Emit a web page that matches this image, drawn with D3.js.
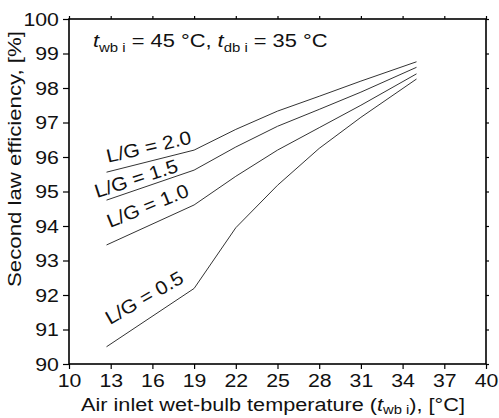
<!DOCTYPE html>
<html><head><meta charset="utf-8">
<script src="https://cdn.jsdelivr.net/npm/d3@7"></script>
<style>
html,body{margin:0;padding:0;background:#fff;}
text{font-family:"Liberation Sans",Arial,sans-serif;fill:#111;}
</style></head>
<body><svg id="c" width="499" height="418"></svg>
<script>
const xTicks = [10,13,16,19,22,25,28,31,34,37,40];
const yTicks = [90,91,92,93,94,95,96,97,98,99,100];
const temps = [12.7,19,22,25,28,31,35];
const lg20 = [95.56,96.20,96.80,97.33,97.76,98.20,98.76];
const lg15 = [94.75,95.62,96.29,96.89,97.38,97.88,98.60];
const lg10 = [93.45,94.61,95.44,96.20,96.85,97.50,98.41];
const lg05 = [90.50,92.19,93.95,95.18,96.25,97.15,98.26];
const seriesNames = ["L/G = 2.0","L/G = 1.5","L/G = 1.0","L/G = 0.5"];
const seriesVals = [lg20,lg15,lg10,lg05];
// label anchor (data coords) and rotation
const labelX = [12.81,12.01,12.95,12.95];
const labelY = [95.83,94.81,93.94,91.13];
const labelAngle = [-13,-18,-22,-30];

const svg = d3.select("#c");
const x = d3.scaleLinear().domain([10,40]).range([69,486]);
const y = d3.scaleLinear().domain([90,100]).range([364,19]);
const FS = 19;
const SX = 1.12;

// frame
svg.append("rect").attr("x",x(10)).attr("y",y(100)).attr("width",x(40)-x(10)).attr("height",y(90)-y(100))
  .attr("fill","none").attr("stroke","#000").attr("stroke-width",1.6);

// axes
const gB = svg.append("g").attr("transform",`translate(0,${y(90)})`)
  .call(d3.axisBottom(x).tickValues(xTicks).tickSize(5).tickPadding(5).tickFormat(d3.format("d")));
const gT = svg.append("g").attr("transform",`translate(0,${y(100)})`)
  .call(d3.axisTop(x).tickValues(xTicks).tickSize(3).tickFormat(""));
const gL = svg.append("g").attr("transform",`translate(${x(10)},0)`)
  .call(d3.axisLeft(y).tickValues(yTicks).tickSize(6).tickPadding(3).tickFormat(d3.format("d")));
const gR = svg.append("g").attr("transform",`translate(${x(40)},0)`)
  .call(d3.axisRight(y).tickValues(yTicks).tickSize(3).tickFormat(""));
[gB,gT,gL,gR].forEach(g=>{
  g.select(".domain").remove();
  g.selectAll("line").attr("stroke","#000").attr("stroke-width",1.2);
  g.selectAll("text").attr("font-size",FS).attr("font-family","Liberation Sans, Arial, sans-serif")
    .attr("fill","#111").attr("transform",`scale(${SX},1)`);
});

// lines
const line = d3.line().x((d,i)=>x(temps[i])).y(d=>y(d));
svg.selectAll("path.s").data(seriesVals).enter().append("path").attr("class","s")
  .attr("d",line).attr("fill","none").attr("stroke","#333").attr("stroke-width",1);

// labels
seriesNames.forEach((n,i)=>{
  svg.append("text").attr("transform",`translate(${x(labelX[i])},${y(labelY[i])}) rotate(${labelAngle[i]}) scale(1.1,1)`)
    .attr("font-size",FS).text(n);
});

// annotation
const ann = svg.append("text").attr("transform",`translate(93,47) scale(${SX+0.03},1)`).attr("font-size",FS);
ann.append("tspan").attr("font-style","italic").text("t");
ann.append("tspan").attr("font-size",13).attr("dy",5).text("wb i");
ann.append("tspan").attr("dy",-5).text(" = 45 °C, ");
ann.append("tspan").attr("font-style","italic").text("t");
ann.append("tspan").attr("font-size",13).attr("dy",5).text("db i");
ann.append("tspan").attr("dy",-5).text(" = 35 °C");

// x title
const xt = svg.append("text").attr("transform",`translate(273,411) scale(${SX+0.02},1)`).attr("text-anchor","middle").attr("font-size",FS);
xt.append("tspan").text("Air inlet wet-bulb temperature (");
xt.append("tspan").attr("font-style","italic").text("t");
xt.append("tspan").attr("font-size",13).attr("dy",3).text("wb i");
xt.append("tspan").attr("dy",-3).text("), [°C]");

// y title
svg.append("text").attr("transform","translate(21,159) rotate(-90) scale(1.17,1)").attr("text-anchor","middle")
  .attr("font-size",FS).text("Second law efficiency, [%]");
</script></body></html>
